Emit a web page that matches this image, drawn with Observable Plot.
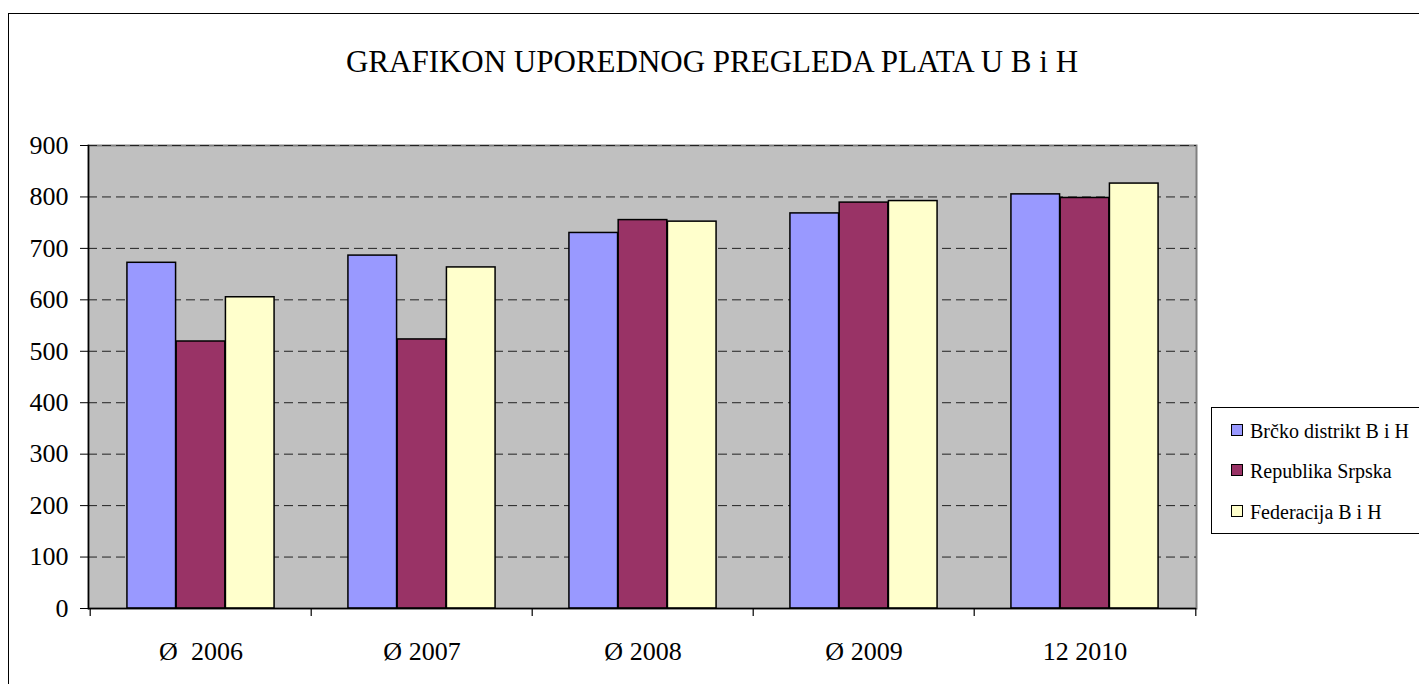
<!DOCTYPE html>
<html>
<head>
<meta charset="utf-8">
<script src="https://cdn.jsdelivr.net/npm/d3@7"></script>
<script src="https://cdn.jsdelivr.net/npm/@observablehq/plot@0.6"></script>
<style>
  body { margin: 0; background: #fff; }
  #wrap { position: relative; width: 1419px; height: 684px; overflow: hidden; font-family: "Liberation Serif", Tinos, "Times New Roman", Times, "Nimbus Roman", "DejaVu Serif", serif; }
  #outer { position: absolute; left: 8px; top: 13px; width: 1600px; height: 900px; border: 1.5px solid #000; }
  #title { position: absolute; left: 0; top: 46px; width: 1424px; text-align: center; font-size: 31px; line-height: 1; color: #000; }
  #chart { position: absolute; left: 0; top: 0; }
  #chart svg text { white-space: pre; }
  #legend { position: absolute; left: 1211px; top: 407px; width: 300px; height: 125px; border: 1.5px solid #000; background: #fff; }
  .lg-row { position: absolute; left: 0; font-size: 20px; line-height: 1; color: #000; white-space: nowrap; }
  .lg-sw { position: absolute; width: 10px; height: 10px; border: 1.5px solid #000; }
</style>
</head>
<body>
<div id="wrap">
  <div id="outer"></div>
  <div id="title"></div>
  <div id="chart"></div>
  <div id="legend"></div>
</div>
<script>
const titleText = "GRAFIKON UPOREDNOG PREGLEDA PLATA U B i H";
const categories = ["Ø  2006", "Ø 2007", "Ø 2008", "Ø 2009", "12 2010"];
const seriesNames = ["Brčko distrikt B i H", "Republika Srpska", "Federacija B i H"];
const seriesColors = ["#9999FF", "#993366", "#FFFFCC"];
const brcko = [672, 686, 730, 768, 805];
const srpska = [519, 523, 755, 789, 798];
const federacija = [605, 663, 752, 792, 826];
const yTicks = [0, 100, 200, 300, 400, 500, 600, 700, 800, 900];

const seriesValues = [brcko, srpska, federacija];
const rows = [];
seriesNames.forEach((s, si) => categories.forEach((c, ci) => rows.push({category: c, series: s, value: seriesValues[si][ci]})));

document.getElementById("title").textContent = titleText;

const FONT = '"Liberation Serif", Tinos, "Times New Roman", Times, "Nimbus Roman", "DejaVu Serif", serif';
const W = 1419, H = 684;
const mL = 88, mR = 223, mT = 145, mB = 76;
const step = (W - mL - mR) / categories.length;
const barW = step / 4.5;

const barMarks = seriesNames.map((s, i) => {
  const insetLeft = (0.75 + i) * barW;
  const insetRight = step - insetLeft - barW;
  return Plot.barY(rows.filter(d => d.series === s), {
    x: "category", y: "value", fill: seriesColors[i],
    stroke: "#000", strokeWidth: 1.5, insetLeft, insetRight
  });
});

const chart = Plot.plot({
  width: W, height: H,
  marginLeft: mL, marginRight: mR, marginTop: mT, marginBottom: mB,
  style: { fontFamily: FONT, fontSize: "26px", background: "transparent", color: "#000" },
  x: { domain: categories, padding: 0, label: null },
  y: { domain: [0, 900], label: null },
  marks: [
    Plot.frame({ fill: "#c0c0c0", stroke: "#808080", strokeWidth: 2 }),
    Plot.ruleY(yTicks.filter(t => t > 0), { stroke: "#222", strokeWidth: 1, strokeDasharray: "9,5" }),
    ...barMarks,
    Plot.frame({ anchor: "left", stroke: "#000", strokeWidth: 1.5 }),
    Plot.ruleY([0], { stroke: "#000", strokeWidth: 1.5 }),
    Plot.ruleX(categories, { x: d => d, dx: -step / 2, y1: 0, y2: 0, insetTop: 0, insetBottom: -8, stroke: "#000", strokeWidth: 1.2 }),
    Plot.ruleX(categories.slice(-1), { x: d => d, dx: step / 2, y1: 0, y2: 0, insetTop: 0, insetBottom: -8, stroke: "#000", strokeWidth: 1.2 }),
    Plot.axisY({ ticks: yTicks, tickSize: 8, tickPadding: 12, fontSize: 26, fontFamily: FONT, tickFormat: d => String(d), label: null, stroke: "#000" }),
    Plot.axisX({ tickSize: 0, tickPadding: 33, fontSize: 26, fontFamily: FONT, label: null })
  ]
});
document.getElementById("chart").appendChild(chart);

const legend = document.getElementById("legend");
const baselines = [30, 70, 111];
seriesNames.forEach((s, i) => {
  const sw = document.createElement("div");
  sw.className = "lg-sw";
  sw.style.left = "19px";
  sw.style.top = (baselines[i] - 14) + "px";
  sw.style.background = seriesColors[i];
  legend.appendChild(sw);
  const t = document.createElement("div");
  t.className = "lg-row";
  t.style.left = "38px";
  t.style.top = (baselines[i] - 17) + "px";
  t.textContent = s;
  legend.appendChild(t);
});
</script>
</body>
</html>
